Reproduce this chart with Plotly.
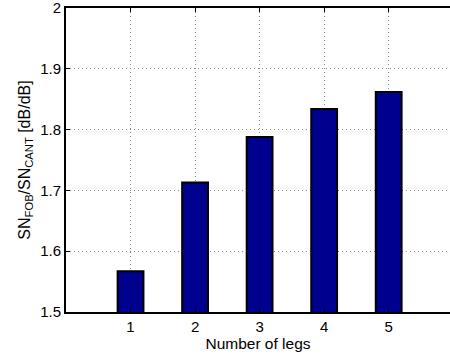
import plotly.graph_objects as go

legs = [1, 2, 3, 4, 5]
ratio = [1.567, 1.713, 1.788, 1.834, 1.862]
y_ticks = [1.5, 1.6, 1.7, 1.8, 1.9, 2.0]
y_tick_text = ["1.5", "1.6", "1.7", "1.8", "1.9", "2"]

font_family = "Liberation Sans, Arial, Helvetica, sans-serif"

fig = go.Figure(
    go.Bar(
        x=legs,
        y=ratio,
        width=0.4,
        marker=dict(color="#00008F", line=dict(color="black", width=2)),
    )
)

fig.update_layout(
    width=450,
    height=360,
    margin=dict(l=66, r=0, t=8, b=48),
    paper_bgcolor="white",
    plot_bgcolor="white",
    showlegend=False,
    font=dict(family=font_family, size=15, color="black"),
)

fig.update_xaxes(
    range=[0, 5.95],
    tickvals=legs,
    ticktext=[str(v) for v in legs],
    ticks="inside",
    ticklen=4,
    tickwidth=1,
    tickcolor="black",
    showline=True,
    linecolor="black",
    linewidth=2,
    mirror="ticks",
    showgrid=True,
    gridcolor="#8a8a8a",
    griddash="1px,3px",
    gridwidth=1,
    zeroline=False,
    tickfont=dict(size=15),
    title=dict(text="Number of legs", font=dict(size=15.5), standoff=2),
)

fig.update_yaxes(
    range=[1.5, 2.0],
    tickvals=y_ticks,
    ticktext=y_tick_text,
    ticks="inside",
    ticklen=4,
    tickwidth=1,
    tickcolor="black",
    showline=True,
    linecolor="black",
    linewidth=2,
    mirror=False,
    showgrid=True,
    gridcolor="#8a8a8a",
    griddash="1px,3px",
    gridwidth=1,
    zeroline=False,
    tickfont=dict(size=15),
    ticklabeloverflow="allow",
    title=dict(
        text="SN<sub>FOB</sub>/SN<sub>CANT</sub> [dB/dB]",
        font=dict(size=16),
        standoff=6,
    ),
)

fig.write_html("out.html")
